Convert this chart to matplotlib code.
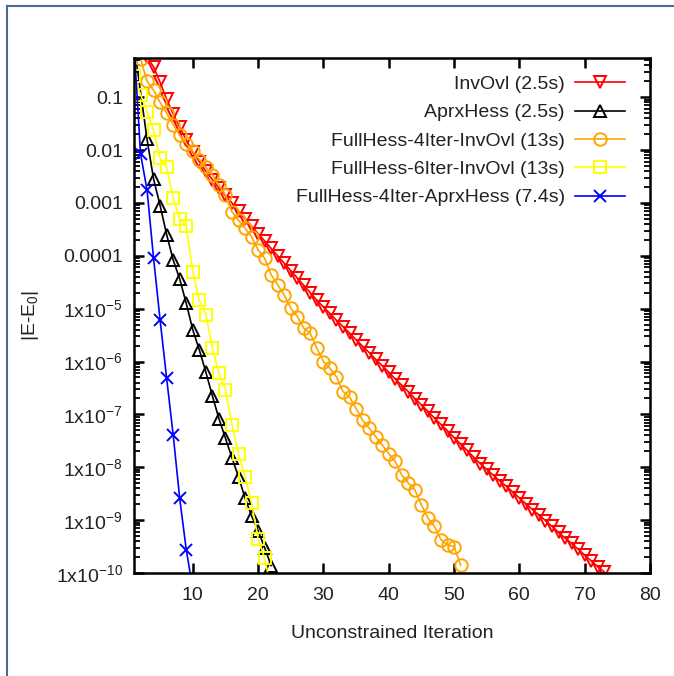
import numpy as np
import matplotlib
matplotlib.use('Agg')
import matplotlib.pyplot as plt
from matplotlib.lines import Line2D
from matplotlib.ticker import FixedLocator, FixedFormatter, LogLocator, NullFormatter

plt.rcParams['font.family'] = ['Liberation Sans', 'DejaVu Sans']
plt.rcParams['mathtext.fontset'] = 'custom'
plt.rcParams['mathtext.rm'] = 'Liberation Sans'
plt.rcParams['mathtext.it'] = 'Liberation Sans'
plt.rcParams['mathtext.default'] = 'regular'

# ---------------- data (log10 of |E-E0|) ----------------
invovl_iter = list(range(3, 74))
invovl_log = [-0.24, -0.43, -0.72, -1.04, -1.32, -1.57, -1.81, -2.04, -2.22, -2.40,
              -2.56, -2.72, -2.86, -3.00, -3.16, -3.30, -3.44, -3.58, -3.72, -3.86,
              -4.00, -4.14, -4.28, -4.42, -4.56, -4.70, -4.84, -4.97, -5.09, -5.22,
              -5.34, -5.46, -5.59, -5.71, -5.83, -5.96, -6.08, -6.20, -6.33, -6.45,
              -6.57, -6.70, -6.82, -6.94, -7.07, -7.19, -7.31, -7.44, -7.56, -7.68,
              -7.81, -7.93, -8.04, -8.15, -8.26, -8.36, -8.47, -8.58, -8.69, -8.80,
              -8.90, -9.01, -9.12, -9.23, -9.34, -9.44, -9.55, -9.66, -9.77, -9.88,
              -9.98]

aprx_iter = [1, 3, 4, 5, 6, 7, 8, 9, 10, 11, 12, 13, 14, 15, 16, 17, 18, 19, 20, 21, 22]
aprx_log = [0.0, -1.80, -2.55, -3.05, -3.60, -4.08, -4.44, -4.90, -5.40, -5.78, -6.20,
            -6.65, -7.08, -7.45, -7.82, -8.18, -8.58, -8.92, -9.20, -9.52, -9.86]

fh4_iter = list(range(2, 52))
fh4_log = [-0.27, -0.70, -0.87, -1.10, -1.30, -1.52, -1.72, -1.88, -2.02, -2.18,
           -2.33, -2.47, -2.66, -2.85, -3.17, -3.33, -3.48, -3.64, -3.89, -4.05,
           -4.36, -4.55, -4.74, -4.99, -5.15, -5.37, -5.47, -5.75, -6.00, -6.13,
           -6.29, -6.57, -6.67, -6.89, -7.11, -7.26, -7.42, -7.58, -7.74, -7.89,
           -8.15, -8.30, -8.43, -8.71, -8.96, -9.12, -9.37, -9.47, -9.50, -9.85]

fh6_iter = list(range(1, 23))
fh6_log = [-0.60, -0.95, -1.28, -1.63, -2.16, -2.33, -2.90, -3.30, -3.44, -4.30,
           -4.84, -5.12, -5.75, -6.22, -6.53, -7.20, -7.75, -8.18, -8.68, -9.35,
           -9.72, -10.30]

fh4a_iter = list(range(1, 11))
fh4a_log = [0.0, -2.07, -2.76, -4.05, -5.22, -6.32, -7.39, -8.59, -9.56, -10.30]

labels = ['InvOvl (2.5s)', 'AprxHess (2.5s)', 'FullHess-4Iter-InvOvl (13s)',
          'FullHess-6Iter-InvOvl (13s)', 'FullHess-4Iter-AprxHess (7.4s)']

ytick_vals = [1e-1, 1e-2, 1e-3, 1e-4, 1e-5, 1e-6, 1e-7, 1e-8, 1e-9, 1e-10]
ytick_labels = ['0.1', '0.01', '0.001', '0.0001', '1x10$^{-5}$', '1x10$^{-6}$',
                '1x10$^{-7}$', '1x10$^{-8}$', '1x10$^{-9}$', '1x10$^{-10}$']
xtick_vals = [10, 20, 30, 40, 50, 60, 70, 80]

# ---------------- figure ----------------
W, H = 674, 676
fig = plt.figure(figsize=(W / 100, H / 100), dpi=100)
fig.patch.set_facecolor('white')

FS = 14

# outer blue-grey frame (top and left)
frame_col = '#4a6b97'
fig.add_artist(Line2D([7 / W, 1.0], [1 - 6 / H, 1 - 6 / H], color=frame_col, lw=1.5,
                      transform=fig.transFigure))
fig.add_artist(Line2D([7 / W, 7 / W], [0.0, 1 - 6 / H], color=frame_col, lw=1.5,
                      transform=fig.transFigure))

ax_l, ax_r, ax_t, ax_b = 134, 650, 58, 573
ax = fig.add_axes([ax_l / W, 1 - ax_b / H, (ax_r - ax_l) / W, (ax_b - ax_t) / H])

series = [
    (invovl_iter, invovl_log, 'red', 'v', 9),
    (aprx_iter, aprx_log, 'black', '^', 9),
    (fh4_iter, fh4_log, '#ffa500', 'o', 9),
    (fh6_iter, fh6_log, '#ffff00', 's', 8.5),
    (fh4a_iter, fh4a_log, '#0000ff', 'x', 9),
]
for (xs, ls, col, mk, ms), lab in zip(series, labels):
    ax.plot(xs, 10.0 ** np.array(ls), color=col, lw=1.2, marker=mk, ms=ms,
            mfc='none', mec=col, mew=1.4, label=lab)

ax.set_yscale('log')
ax.set_xlim(1, 80)
ax.set_ylim(1e-10, 0.55)

ax.xaxis.set_major_locator(FixedLocator(xtick_vals))
ax.yaxis.set_major_locator(FixedLocator(ytick_vals))
ax.yaxis.set_major_formatter(FixedFormatter(ytick_labels))
ax.yaxis.set_minor_locator(LogLocator(base=10, subs=np.arange(2, 10), numticks=30))
ax.yaxis.set_minor_formatter(NullFormatter())

for sp in ax.spines.values():
    sp.set_linewidth(1.8)

ax.tick_params(axis='both', which='major', direction='in', length=7, width=1.8,
               labelsize=FS, top=True, right=True, colors='black')
ax.tick_params(axis='y', which='minor', direction='in', length=4, width=1.3,
               left=True, right=True)
ax.tick_params(axis='x', which='major', pad=10)
ax.tick_params(axis='y', which='major', pad=8)
for t in ax.get_xticklabels() + ax.get_yticklabels():
    t.set_color('#222222')

ax.set_xlabel('Unconstrained Iteration', fontsize=FS, labelpad=15, color='#222222')
ax.set_ylabel('|E-E$_0$|', fontsize=FS, labelpad=11, color='#222222')

leg = ax.legend(loc='upper right', bbox_to_anchor=(0.952, 0.966), frameon=False,
                markerfirst=False, fontsize=FS, handlelength=2.6, handletextpad=0.5,
                labelspacing=0.55, borderpad=0, borderaxespad=0)
for t in leg.get_texts():
    t.set_color('#222222')

fig.savefig('out.png', dpi=100, facecolor='white')
